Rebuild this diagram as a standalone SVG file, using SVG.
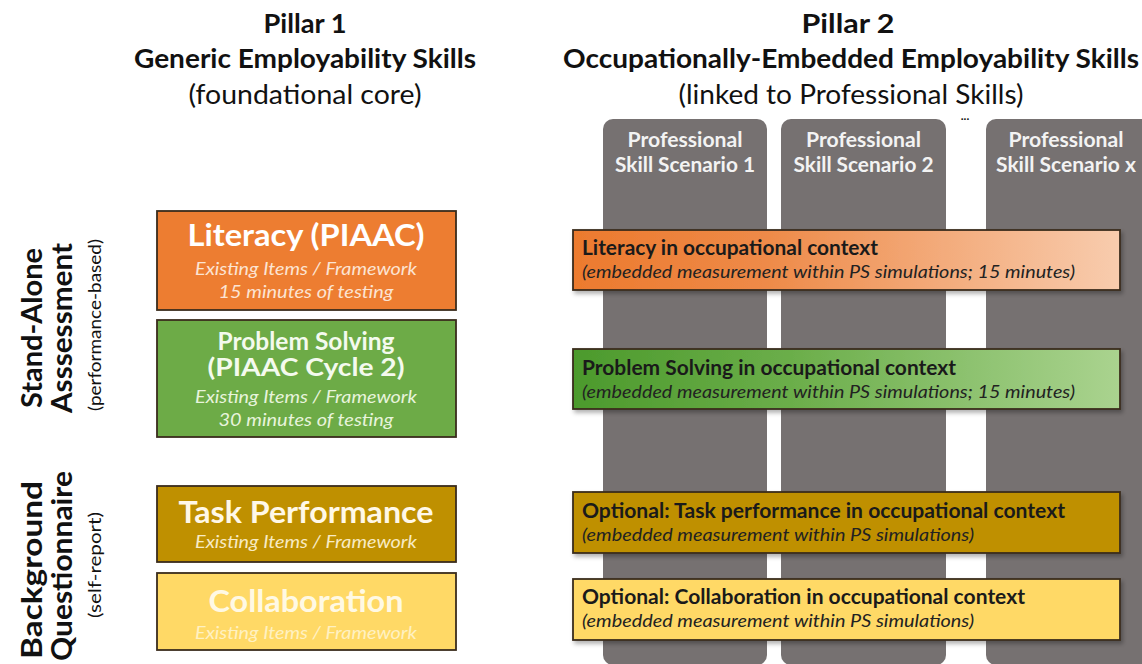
<svg xmlns="http://www.w3.org/2000/svg" width="1142" height="664" viewBox="0 0 1142 664">
<defs>
<linearGradient id="gLit" x1="0" y1="0" x2="1" y2="0">
<stop offset="0" stop-color="#EC7A2E"/><stop offset="0.35" stop-color="#EE8A48"/><stop offset="1" stop-color="#F8CCAE"/>
</linearGradient>
<linearGradient id="gPS" x1="0" y1="0" x2="1" y2="0">
<stop offset="0" stop-color="#4C9A2C"/><stop offset="0.4" stop-color="#6BAE4A"/><stop offset="1" stop-color="#AAD38F"/>
</linearGradient>
<filter id="sh" x="-5%" y="-20%" width="110%" height="150%">
<feDropShadow dx="2" dy="3" stdDeviation="2" flood-color="#000" flood-opacity="0.3"/>
</filter>
<style>
.hb{font-family:Lato,"Open Sans","Liberation Sans",sans-serif;font-weight:bold;fill:#111;}
.hr{font-family:Lato,"Open Sans","Liberation Sans",sans-serif;fill:#111;}
.col{fill:#767171;}
.cl{font-family:Lato,"Open Sans","Liberation Sans",sans-serif;font-weight:bold;font-size:20px;fill:#f3f3f3;}
.box{stroke:#3a2c1c;stroke-width:1.8;}
.lt{font-family:Lato,"Open Sans","Liberation Sans",sans-serif;font-weight:bold;}
.li{font-family:Lato,"Open Sans","Liberation Sans",sans-serif;font-style:italic;font-size:18px;}
.rt{font-family:Lato,"Open Sans","Liberation Sans",sans-serif;font-weight:bold;font-size:20px;fill:#1a1a1a;}
.ri{font-family:Lato,"Open Sans","Liberation Sans",sans-serif;font-style:italic;font-size:18px;fill:#222;}
</style>
</defs>
<rect width="1142" height="664" fill="#fff"/>

<g id="pillar1-header">
<text class="hb" x="305" y="33" font-size="26" text-anchor="middle" textLength="83" lengthAdjust="spacingAndGlyphs">Pillar 1</text>
<text class="hb" x="305" y="68" font-size="26" text-anchor="middle" textLength="342" lengthAdjust="spacingAndGlyphs">Generic Employability Skills</text>
<text class="hr" x="305" y="104" font-size="26" text-anchor="middle" textLength="233" lengthAdjust="spacingAndGlyphs">(foundational core)</text>
</g>
<g id="pillar2-header">
<text class="hb" x="848" y="33" font-size="26" text-anchor="middle" textLength="93" lengthAdjust="spacingAndGlyphs">Pillar 2</text>
<text class="hb" x="851" y="68" font-size="26" text-anchor="middle" textLength="576" lengthAdjust="spacingAndGlyphs">Occupationally-Embedded Employability Skills</text>
<text class="hr" x="851" y="104" font-size="26" text-anchor="middle" textLength="345" lengthAdjust="spacingAndGlyphs">(linked to Professional Skills)</text>
<text class="hb" x="965" y="120" font-size="12" text-anchor="middle" fill="#333">...</text>
</g>

<g id="scenario1">
<rect class="col" x="603" y="119" width="164" height="546" rx="10"/>
<text class="cl" x="685" y="147" text-anchor="middle" textLength="115" lengthAdjust="spacingAndGlyphs">Professional</text>
<text class="cl" x="685" y="172" text-anchor="middle" textLength="140" lengthAdjust="spacingAndGlyphs">Skill Scenario 1</text>
</g>
<g id="scenario2">
<rect class="col" x="781" y="119" width="165" height="546" rx="10"/>
<text class="cl" x="863.5" y="147" text-anchor="middle" textLength="115" lengthAdjust="spacingAndGlyphs">Professional</text>
<text class="cl" x="863.5" y="172" text-anchor="middle" textLength="140" lengthAdjust="spacingAndGlyphs">Skill Scenario 2</text>
</g>
<g id="scenarioX">
<rect class="col" x="986" y="119" width="170" height="546" rx="10"/>
<text class="cl" x="1066" y="147" text-anchor="middle" textLength="115" lengthAdjust="spacingAndGlyphs">Professional</text>
<text class="cl" x="1066" y="172" text-anchor="middle" textLength="140" lengthAdjust="spacingAndGlyphs">Skill Scenario x</text>
</g>

<g id="row-label-standalone">
<text class="hb" transform="translate(42,328) rotate(-90)" font-size="29" text-anchor="middle" textLength="160" lengthAdjust="spacingAndGlyphs">Stand-Alone</text>
<text class="hb" transform="translate(72,328) rotate(-90)" font-size="29" text-anchor="middle" textLength="170" lengthAdjust="spacingAndGlyphs">Asssessment</text>
<text class="hr" transform="translate(101,325) rotate(-90)" font-size="18" text-anchor="middle" textLength="172" lengthAdjust="spacingAndGlyphs">(performance-based)</text>
</g>
<g id="row-label-questionnaire">
<text class="hb" transform="translate(42,570) rotate(-90)" font-size="29" text-anchor="middle" textLength="178" lengthAdjust="spacingAndGlyphs">Background</text>
<text class="hb" transform="translate(72,566) rotate(-90)" font-size="29" text-anchor="middle" textLength="190" lengthAdjust="spacingAndGlyphs">Questionnaire</text>
<text class="hr" transform="translate(101,565) rotate(-90)" font-size="18" text-anchor="middle" textLength="106" lengthAdjust="spacingAndGlyphs">(self-report)</text>
</g>

<g id="literacy">
<rect class="box" x="157" y="211" width="299" height="99" fill="#ED7D31"/>
<text class="lt" x="306" y="246" font-size="31" fill="#fff" text-anchor="middle" textLength="237" lengthAdjust="spacingAndGlyphs">Literacy (PIAAC)</text>
<text class="li" x="306" y="275" fill="#FCE4D3" text-anchor="middle" textLength="222" lengthAdjust="spacingAndGlyphs">Existing Items / Framework</text>
<text class="li" x="306" y="298" fill="#FCE4D3" text-anchor="middle" textLength="175" lengthAdjust="spacingAndGlyphs">15 minutes of testing</text>
</g>
<g id="problem-solving">
<rect class="box" x="157" y="320" width="299" height="117" fill="#6DAB47"/>
<text class="lt" x="306" y="350" font-size="24" fill="#F4FAEE" text-anchor="middle" textLength="177" lengthAdjust="spacingAndGlyphs">Problem Solving</text>
<text class="lt" x="306" y="376" font-size="24" fill="#F4FAEE" text-anchor="middle" textLength="197" lengthAdjust="spacingAndGlyphs">(PIAAC Cycle 2)</text>
<text class="li" x="306" y="403" fill="#E8F4DC" text-anchor="middle" textLength="222" lengthAdjust="spacingAndGlyphs">Existing Items / Framework</text>
<text class="li" x="306" y="426" fill="#E8F4DC" text-anchor="middle" textLength="175" lengthAdjust="spacingAndGlyphs">30 minutes of testing</text>
</g>
<g id="task-performance">
<rect class="box" x="157" y="486" width="299" height="76" fill="#BF9000"/>
<text class="lt" x="306" y="523" font-size="31" fill="#FFF8E8" text-anchor="middle" textLength="255" lengthAdjust="spacingAndGlyphs">Task Performance</text>
<text class="li" x="306" y="548" fill="#F8EBC4" text-anchor="middle" textLength="222" lengthAdjust="spacingAndGlyphs">Existing Items / Framework</text>
</g>
<g id="collaboration">
<rect class="box" x="157" y="573" width="299" height="77" fill="#FFD966"/>
<text class="lt" x="306" y="612" font-size="31" fill="#FFF9E4" text-anchor="middle" textLength="195" lengthAdjust="spacingAndGlyphs">Collaboration</text>
<text class="li" x="306" y="639" fill="#FFF1C2" text-anchor="middle" textLength="222" lengthAdjust="spacingAndGlyphs">Existing Items / Framework</text>
</g>

<g id="literacy-occ">
<rect class="box" x="573" y="230" width="547" height="60" fill="url(#gLit)" filter="url(#sh)"/>
<text class="rt" x="582" y="255" textLength="296" lengthAdjust="spacingAndGlyphs">Literacy in occupational context</text>
<text class="ri" x="582" y="278" textLength="493" lengthAdjust="spacingAndGlyphs">(embedded measurement within PS simulations; 15 minutes)</text>
</g>
<g id="ps-occ">
<rect class="box" x="573" y="349" width="547" height="60" fill="url(#gPS)" filter="url(#sh)"/>
<text class="rt" x="582" y="375" textLength="374" lengthAdjust="spacingAndGlyphs">Problem Solving in occupational context</text>
<text class="ri" x="582" y="398" textLength="493" lengthAdjust="spacingAndGlyphs">(embedded measurement within PS simulations; 15 minutes)</text>
</g>
<g id="task-occ">
<rect class="box" x="573" y="492" width="547" height="61" fill="#BF9000" filter="url(#sh)"/>
<text class="rt" x="582" y="518" textLength="483" lengthAdjust="spacingAndGlyphs">Optional: Task performance in occupational context</text>
<text class="ri" x="582" y="541" textLength="392" lengthAdjust="spacingAndGlyphs">(embedded measurement within PS simulations)</text>
</g>
<g id="collab-occ">
<rect class="box" x="573" y="579" width="547" height="61" fill="#FFD966" filter="url(#sh)"/>
<text class="rt" x="582" y="604" textLength="443" lengthAdjust="spacingAndGlyphs">Optional: Collaboration in occupational context</text>
<text class="ri" x="582" y="627" textLength="392" lengthAdjust="spacingAndGlyphs">(embedded measurement within PS simulations)</text>
</g>
<g id="connectors"></g>
</svg>
